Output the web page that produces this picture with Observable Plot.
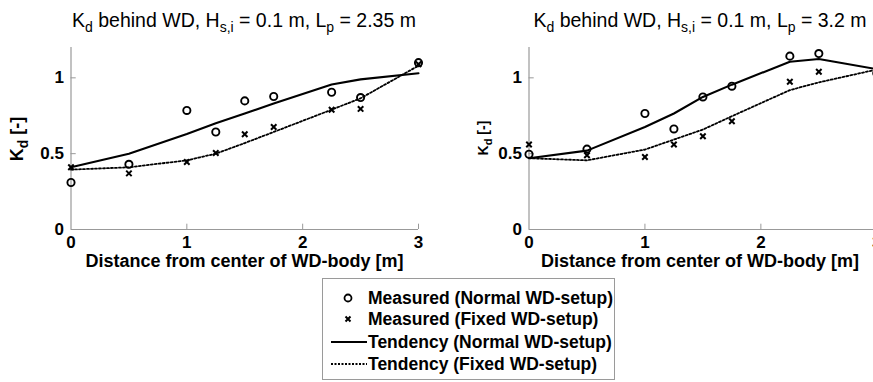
<!DOCTYPE html>
<html><head><meta charset="utf-8">
<script src="https://cdn.jsdelivr.net/npm/d3@7"></script>
<script src="https://cdn.jsdelivr.net/npm/@observablehq/plot@0.6"></script>
<style>
body{margin:0;background:#fff;font-family:"Liberation Sans",Arial,sans-serif;color:#000;}
#wrap{position:relative;width:873px;height:382px;overflow:hidden;background:#fff;}
.panel{position:absolute;top:0;}
.title{position:absolute;top:8px;font-size:19.5px;white-space:nowrap;transform:translateX(-50%);line-height:24px;}
.sub{position:relative;top:0.38em;font-size:14px;}
.ylab{position:absolute;transform:translate(-50%,-50%) rotate(-90deg);font-weight:bold;white-space:nowrap;line-height:1;}
.xlab{position:absolute;transform:translate(-50%,-50%);font-weight:bold;font-size:18px;white-space:nowrap;}
.legend{position:absolute;left:322px;top:278px;width:293px;height:102px;border:1px solid #9a9a9a;box-sizing:border-box;background:#fff;}
.legend .row{position:absolute;left:0;height:22px;transform:translateY(-50%);display:flex;align-items:center;font-weight:bold;font-size:17.5px;white-space:nowrap;}
</style>
</head><body>
<div id="wrap"></div>
<script>
// ---- data ----
const xs = [0, 0.5, 1, 1.25, 1.5, 1.75, 2.25, 2.5, 3];
const xTicks = [0, 1, 2, 3];
const yTicks = [0, 0.5, 1];

// Panel 1: Lp = 2.35 m
const p1MeasNormal = [0.31, 0.43, 0.785, 0.643, 0.848, 0.877, 0.905, 0.87, 1.10];
const p1MeasFixed  = [0.41, 0.37, 0.445, 0.504, 0.628, 0.676, 0.79, 0.795, 1.09];
const p1TendNormal = [0.41, 0.50, 0.63, 0.70, 0.765, 0.83, 0.956, 0.99, 1.03];
const p1TendFixed  = [0.395, 0.41, 0.456, 0.50, 0.57, 0.643, 0.79, 0.865, 1.08];

// Panel 2: Lp = 3.2 m
const p2MeasNormal = [0.496, 0.53, 0.765, 0.663, 0.874, 0.945, 1.143, 1.16, 1.03];
const p2MeasFixed  = [0.56, 0.49, 0.478, 0.56, 0.615, 0.714, 0.974, 1.04, 1.05];
const p2TendNormal = [0.47, 0.52, 0.676, 0.765, 0.874, 0.955, 1.106, 1.124, 1.057];
const p2TendFixed  = [0.47, 0.456, 0.527, 0.593, 0.659, 0.747, 0.919, 0.97, 1.055];

const titles = [
  ["K", "d", " behind WD, H", "s,i", " = 0.1 m, L", "p", " = 2.35 m"],
  ["K", "d", " behind WD, H", "s,i", " = 0.1 m, L", "p", " = 3.2 m"]
];
const xLabel = "Distance from center of WD-body [m]";
const legendLabels = ["Measured (Normal WD-setup)", "Measured (Fixed WD-setup)", "Tendency (Normal WD-setup)", "Tendency (Fixed WD-setup)"];

// ---- drawing ----
const wrap = document.getElementById("wrap");
const font = "Liberation Sans, Arial, sans-serif";
const fmt = d3.format("~g");

function panel(mn, mf, tn, tf, marginLeft, marginRight) {
  const data = xs.map((x, i) => ({x, mn: mn[i], mf: mf[i], tn: tn[i], tf: tf[i]}));
  return Plot.plot({
    width: 440, height: 272,
    marginLeft, marginRight, marginTop: 47, marginBottom: 43,
    x: {domain: [0, 3]},
    y: {domain: [0, 1.2]},
    style: {fontFamily: font, fontSize: "17px", fontWeight: "bold", color: "black", background: "transparent", overflow: "visible"},
    marks: [
      Plot.ruleY([0], {stroke: "#999", strokeWidth: 1.2}),
      Plot.ruleX([0], {stroke: "#999", strokeWidth: 1.2}),
      Plot.ruleX(xTicks.slice(1), {y1: 0, y2: 0.035, stroke: "#999"}),
      Plot.ruleY(yTicks.slice(1), {x1: 0, x2: 0.045, stroke: "#999"}),
      Plot.axisX({ticks: xTicks, tickFormat: fmt, tickSize: 0, tickPadding: 6, label: null, fill: "black"}),
      Plot.axisY({ticks: yTicks, tickFormat: fmt, tickSize: 0, tickPadding: 7, label: null, fill: "black"}),
      Plot.line(data, {x: "x", y: "tn", stroke: "black", strokeWidth: 2.1}),
      Plot.line(data, {x: "x", y: "tf", stroke: "black", strokeWidth: 1.8, strokeDasharray: "2 2"}),
      Plot.dot(data, {x: "x", y: "mn", r: 3.6, stroke: "black", strokeWidth: 1.9}),
      Plot.dot(data, {x: "x", y: "mf", symbol: "times", r: 2.6, stroke: "black", strokeWidth: 2})
    ]
  });
}

function addTitle(parts, cx) {
  const d = document.createElement("div");
  d.className = "title";
  d.style.left = cx + "px";
  d.innerHTML = parts.map((p, i) => i % 2 ? `<span class="sub">${p}</span>` : p).join("");
  wrap.appendChild(d);
}
function addYLab(cx, cy, size) {
  const d = document.createElement("div");
  d.className = "ylab";
  d.style.left = cx + "px"; d.style.top = cy + "px"; d.style.fontSize = size + "px";
  d.innerHTML = `K<span class="sub" style="font-size:${Math.round(size*0.75)}px">d</span> [-]`;
  wrap.appendChild(d);
}
function addXLab(cx, cy) {
  const d = document.createElement("div");
  d.className = "xlab";
  d.style.left = cx + "px"; d.style.top = cy + "px";
  d.textContent = xLabel;
  wrap.appendChild(d);
}

const c1 = panel(p1MeasNormal, p1MeasFixed, p1TendNormal, p1TendFixed, 70.5, 22);
c1.classList.add("panel"); c1.style.left = "0px";
wrap.appendChild(c1);
const c2 = panel(p2MeasNormal, p2MeasFixed, p2TendNormal, p2TendFixed, 88.5, 3.7);
c2.classList.add("panel"); c2.style.left = "440px";
wrap.appendChild(c2);

addTitle(titles[0], 244);
addTitle(titles[1], 700);
addYLab(17, 139, 18);
addYLab(483, 138, 14);
addXLab(244.5, 261);
addXLab(700, 261);

// legend
const leg = document.createElement("div");
leg.className = "legend";
const rowY = [19, 40, 63, 85];
const sym = [
  `<circle cx="25" cy="11" r="3.5" fill="none" stroke="black" stroke-width="1.8"/>`,
  `<path d="M22.5,8.5L27.5,13.5M27.5,8.5L22.5,13.5" stroke="black" stroke-width="2"/>`,
  `<line x1="8" y1="11" x2="44" y2="11" stroke="black" stroke-width="2"/>`,
  `<line x1="8" y1="11" x2="44" y2="11" stroke="black" stroke-width="1.8" stroke-dasharray="2 1.5"/>`
];
legendLabels.forEach((lab, i) => {
  const r = document.createElement("div");
  r.className = "row";
  r.style.top = rowY[i] + "px";
  r.innerHTML = `<svg width="45" height="22" style="display:block">${sym[i]}</svg><span>${lab}</span>`;
  leg.appendChild(r);
});
wrap.appendChild(leg);
</script>
</body></html>
